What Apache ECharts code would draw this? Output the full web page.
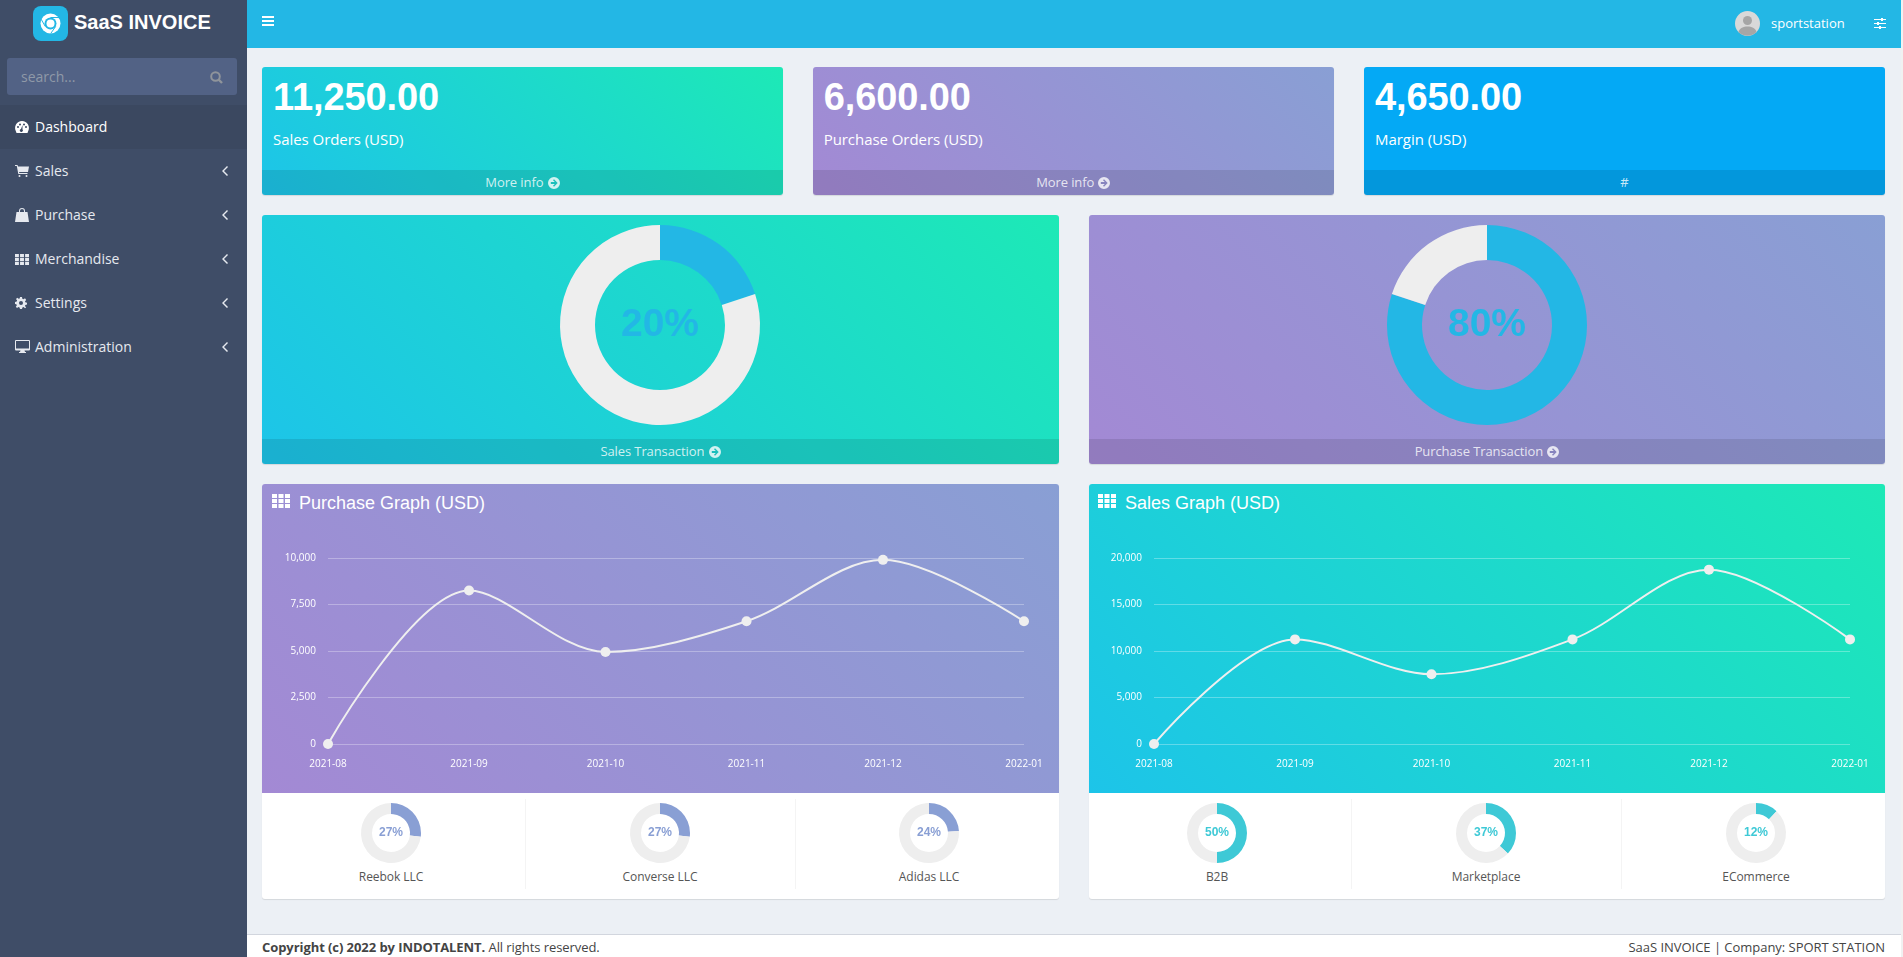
<!DOCTYPE html>
<html>
<head>
<meta charset="utf-8">
<title>SaaS INVOICE</title>
<script src="https://cdn.jsdelivr.net/npm/echarts@6/dist/echarts.min.js"></script>
<style>
html,body{margin:0;padding:0;width:1903px;height:957px;overflow:hidden;background:#ecf0f5;font-family:"Open Sans",sans-serif;}
.box{position:absolute;border-radius:3px;overflow:hidden;box-shadow:0 1px 1px rgba(0,0,0,.1);}
.green{background:linear-gradient(-135deg,#1de9b6,#1dc4e9);}
.purple{background:linear-gradient(-135deg,#899fd4,#a389d4);}
.blue{background:#04a9f5;}
.foot{position:absolute;left:0;right:0;bottom:0;height:25px;line-height:25px;background:rgba(0,0,0,.1);text-align:center;color:rgba(255,255,255,.8);font-size:13px;letter-spacing:-.1px;}
.foot svg{width:12px;height:12px;vertical-align:-2px;margin-left:1px;fill:rgba(255,255,255,.8);}
.big{position:absolute;left:11px;top:13px;font:bold 38px/34px "Liberation Sans",sans-serif;letter-spacing:-.1px;color:#fff;}
.sub{position:absolute;left:11px;top:62px;line-height:20px;font-size:15px;letter-spacing:-.05px;color:#fff;}
.t{position:absolute;white-space:nowrap;height:20px;line-height:20px;}
.nav{left:35px;font-size:14px;color:#e6e9ef;}
svg.i{position:absolute;fill:currentColor;}
.panel-title{font:18px/20px "Liberation Sans",sans-serif;color:#fff;}
.mini{font-size:12px;color:#555;transform:translateX(-50%);letter-spacing:-.05px;}
.sep{position:absolute;width:1px;top:799px;height:90px;background:#f4f4f4;}
</style>
</head>
<body>
<svg width="0" height="0" style="position:absolute">
<symbol id="th" viewBox="0 0 18 14"><path d="M0 0h5v4H0zM6.500 0h5v4h-5zM13 0h5v4h-5zM0 5h5v4H0zM6.500 5h5v4h-5zM13 5h5v4h-5zM0 10h5v4H0zM6.500 10h5v4h-5zM13 10h5v4h-5z"/></symbol>
<symbol id="chev" viewBox="0 0 6 10"><path d="M5 0l1 1-4 4 4 4-1 1-5-5z"/></symbol>
<symbol id="arrow" viewBox="0 0 12 12"><path fill-rule="evenodd" d="M6 0a6 6 0 1 1 0 12A6 6 0 0 1 6 0zM6 2.300l-1 1 1.800 1.800H2.800v1.800h4L5 8.700l1 1 3.700-3.700z"/></symbol>
</svg>

<!-- sidebar -->
<div style="position:absolute;left:0;top:0;width:247px;height:957px;background:#3f4d67"></div>
<div style="position:absolute;left:33px;top:6px;width:35px;height:35px;border-radius:8px;background:#23b7e5"></div>
<svg style="position:absolute;left:40px;top:13px" width="21" height="21" viewBox="0 0 21 21"><circle cx="10.500" cy="10.500" r="10" fill="#fff"/><circle cx="10.500" cy="10.500" r="6" fill="#23b7e5"/><circle cx="10.500" cy="10.500" r="4" fill="#fff"/><path d="M10.500 4.500h9.500M15.700 13.500l-5 7M5.300 13.500L1 6" stroke="#23b7e5" stroke-width="1"/></svg>
<div class="t" style="left:74px;top:12px;font:bold 20px/20px 'Liberation Sans',sans-serif;color:#fff">SaaS INVOICE</div>
<div style="position:absolute;left:7px;top:58px;width:230px;height:37px;border-radius:3px;background:#526285"></div>
<div class="t" style="left:21px;top:67px;font-size:14px;color:#8f99a8">search...</div>
<svg style="position:absolute;left:210px;top:71px" width="13" height="13" viewBox="0 0 13 13"><circle cx="5.500" cy="5.500" r="4.300" fill="none" stroke="#8f949b" stroke-width="2"/><path d="M8.500 8.500l3.500 3.500" stroke="#8f949b" stroke-width="2.400"/></svg>
<div style="position:absolute;left:0;top:105px;width:247px;height:44px;background:#3b4860"></div>

<svg class="i" style="left:15px;top:121px;color:#fff" width="14" height="12" viewBox="0 0 14 12"><path fill-rule="evenodd" d="M7 0a7 7 0 0 1 6 10.500L12.500 12h-11L1 10.500A7 7 0 0 1 7 0zM3 5a1 1 0 1 0 0 2 1 1 0 0 0 0-2zM5 2.500a1 1 0 1 0 0 2 1 1 0 0 0 0-2zM9 2.500a1 1 0 1 0 0 2 1 1 0 0 0 0-2zM11 5a1 1 0 1 0 0 2 1 1 0 0 0 0-2zM7.500 4L6 8a1.500 1.500 0 1 0 1.500.5z"/></svg>
<div class="t nav" style="top:117px;color:#fff">Dashboard</div>
<svg class="i" style="left:15px;top:165px;color:#e6e9ef" width="14" height="12" viewBox="0 0 14 12"><path d="M0 0h2.500l.5 1.500H14l-1 5.500H4l.3 1H12.500v1H3.300L1.800 1H0z"/><circle cx="4.500" cy="11" r="1"/><circle cx="11.500" cy="11" r="1"/></svg>
<div class="t nav" style="top:161px">Sales</div>
<svg class="i" style="left:15px;top:208px;color:#e6e9ef" width="14" height="14" viewBox="0 0 14 14"><path d="M1.500 4H4V3a3 3 0 0 1 6 0v1h2.500L14 14H0zM5 4h4V3a2 2 0 0 0-4 0z"/></svg>
<div class="t nav" style="top:205px">Purchase</div>
<svg class="i" style="left:15px;top:254px;color:#e6e9ef" width="14" height="11"><use href="#th"/></svg>
<div class="t nav" style="top:249px">Merchandise</div>
<svg class="i" style="left:15px;top:297px;color:#e6e9ef" width="12" height="12" viewBox="0 0 12 12"><path fill-rule="evenodd" d="M5 0h2l.3 1.700 1.300.6L10 1.300 11.200 3 10 4.200l.3 1 1.700.5v1.800l-1.700.4-.3 1.200 1.100 1.300L10 11.200 8.700 10l-1.300.4-.4 1.600H5l-.4-1.600-1.200-.5L2 11.100.8 9.800l1-1.300-.4-1.200L0 7V5l1.700-.4.4-1.200L1 2l1.300-1.200 1.300 1 1.100-.4zM6 4a2 2 0 1 0 0 4 2 2 0 0 0 0-4z"/></svg>
<div class="t nav" style="top:293px">Settings</div>
<svg class="i" style="left:15px;top:340px;color:#e6e9ef" width="15" height="13" viewBox="0 0 15 13"><path fill-rule="evenodd" d="M1 0h13a1 1 0 0 1 1 1v8.500a1 1 0 0 1-1 1H9.500l.5 1.500h1v1H4v-1h1l.5-1.500H1a1 1 0 0 1-1-1V1a1 1 0 0 1 1-1zM1 1v7.500h13V1z"/></svg>
<div class="t nav" style="top:337px">Administration</div>
<svg class="i" style="left:222px;top:166px;color:#e6e9ef" width="6" height="10"><use href="#chev"/></svg>
<svg class="i" style="left:222px;top:210px;color:#e6e9ef" width="6" height="10"><use href="#chev"/></svg>
<svg class="i" style="left:222px;top:254px;color:#e6e9ef" width="6" height="10"><use href="#chev"/></svg>
<svg class="i" style="left:222px;top:298px;color:#e6e9ef" width="6" height="10"><use href="#chev"/></svg>
<svg class="i" style="left:222px;top:342px;color:#e6e9ef" width="6" height="10"><use href="#chev"/></svg>

<!-- top bar -->
<div style="position:absolute;left:247px;top:0;width:1654px;height:48px;background:#23b7e5"></div>
<div style="position:absolute;left:1901px;top:0;width:2px;height:957px;background:#f1f1f1"></div>
<svg style="position:absolute;left:262px;top:16px" width="12" height="10" viewBox="0 0 12 10" fill="#fff"><path d="M0 0h12v2H0zM0 4h12v2H0zM0 8h12v2H0z"/></svg>
<svg style="position:absolute;left:1735px;top:11px" width="25" height="25" viewBox="0 0 25 25"><circle cx="12.500" cy="12.500" r="12.500" fill="#d9d9d9"/><circle cx="12.500" cy="9.500" r="4.500" fill="#a6a6a6"/><path d="M3.500 21c1-4 5-5.500 9-5.500s8 1.500 9 5.500a12.500 12.500 0 0 1-18 0z" fill="#a6a6a6"/></svg>
<div class="t" style="left:1771px;top:13px;font-size:13px;color:#fff">sportstation</div>
<svg style="position:absolute;left:1874px;top:18px" width="12" height="11" viewBox="0 0 12 11" fill="#fff"><path d="M0 1h12v1H0zM0 5h12v1H0zM0 9h12v1H0zM7 0h2v3H7zM3 4h2v3H3zM5 8h2v3H5z"/></svg>

<!-- stat cards -->
<div class="box green" style="left:262px;top:67px;width:521px;height:128px"><div class="big">11,250.00</div><div class="sub">Sales Orders (USD)</div><div class="foot">More info <svg><use href="#arrow"/></svg></div></div>
<div class="box purple" style="left:812.67px;top:67px;width:521.33px;height:128px"><div class="big">6,600.00</div><div class="sub">Purchase Orders (USD)</div><div class="foot">More info <svg><use href="#arrow"/></svg></div></div>
<div class="box blue" style="left:1364px;top:67px;width:521px;height:128px"><div class="big">4,650.00</div><div class="sub">Margin (USD)</div><div class="foot">#</div></div>

<!-- transaction panels -->
<div class="box green" style="left:262px;top:215px;width:797px;height:249px"><div class="foot">Sales Transaction <svg><use href="#arrow"/></svg></div></div>
<div class="box purple" style="left:1089px;top:215px;width:796px;height:249px"><div class="foot">Purchase Transaction <svg><use href="#arrow"/></svg></div></div>

<!-- graph panels -->
<div class="box" style="left:262px;top:484px;width:797px;height:415px;background:#fff"><div class="purple" style="height:309px"></div></div>
<div class="box" style="left:1089px;top:484px;width:796px;height:415px;background:#fff"><div class="green" style="height:309px"></div></div>
<svg class="i" style="left:272px;top:494px;color:#fff" width="18" height="14"><use href="#th"/></svg>
<div class="t panel-title" style="left:299px;top:493px">Purchase Graph (USD)</div>
<svg class="i" style="left:1098px;top:494px;color:#fff" width="18" height="14"><use href="#th"/></svg>
<div class="t panel-title" style="left:1125px;top:493px">Sales Graph (USD)</div>
<div class="sep" style="left:525px"></div>
<div class="sep" style="left:795px"></div>
<div class="sep" style="left:1351px"></div>
<div class="sep" style="left:1621px"></div>
<div class="t mini" style="left:391px;top:867px">Reebok LLC</div>
<div class="t mini" style="left:660px;top:867px">Converse LLC</div>
<div class="t mini" style="left:929px;top:867px">Adidas LLC</div>
<div class="t mini" style="left:1217px;top:867px">B2B</div>
<div class="t mini" style="left:1486px;top:867px">Marketplace</div>
<div class="t mini" style="left:1756px;top:867px">ECommerce</div>

<!-- page footer -->
<div style="position:absolute;left:247px;top:934px;width:1654px;height:23px;background:#fff;border-top:1px solid #d2d6de;box-sizing:border-box"></div>
<div class="t" style="left:262px;top:937px;font-size:13px;color:#444;letter-spacing:-.07px"><b>Copyright (c) 2022 by INDOTALENT.</b> All rights reserved.</div>
<div class="t" style="right:18px;top:937px;font-size:13px;color:#444;letter-spacing:-.03px">SaaS INVOICE | Company: SPORT STATION</div>

<div id="main" style="position:absolute;left:0;top:0;width:1903px;height:957px;pointer-events:none"></div>

<script>
var months = ['2021-08-01', '2021-09-01', '2021-10-01', '2021-11-01', '2021-12-01', '2022-01-01'];
var purchaseValues = [0, 8250, 4950, 6600, 9900, 6600];
var salesValues = [0, 11250, 7500, 11250, 18750, 11250];
var salesTransaction = 20;
var purchaseTransaction = 80;
var purchaseShares = [27, 27, 24];
var salesShares = [50, 37, 12];

var chart = echarts.init(document.getElementById('main'), null, {renderer: 'canvas'});
var monthStamps = months.map(function (m) { return +new Date(m + 'T00:00:00'); });

function xAxis(index) {
    return {
        type: 'time',
        gridIndex: index,
        min: monthStamps[0],
        max: monthStamps[5],
        axisLine: {show: false},
        axisTick: {show: false},
        splitLine: {show: false},
        axisLabel: {
            customValues: monthStamps,
            hideOverlap: false,
            showMinLabel: true,
            showMaxLabel: true,
            color: '#fff',
            fontSize: 10,
            fontFamily: 'Open Sans',
            margin: 15,
            formatter: '{yyyy}-{MM}'
        }
    };
}

function yAxis(index, max, step) {
    return {
        type: 'value',
        gridIndex: index,
        min: 0,
        max: max,
        interval: step,
        axisLine: {show: false},
        axisTick: {show: false},
        axisLabel: {
            color: '#fff',
            fontSize: 10,
            fontFamily: 'Open Sans',
            margin: 12,
            padding: [3, 0, 0, 0]
        },
        splitLine: {lineStyle: {color: 'rgba(255,255,255,0.3)', width: 1}}
    };
}

function lineSeries(index, values) {
    return {
        type: 'line',
        xAxisIndex: index,
        yAxisIndex: index,
        data: values.map(function (v, i) { return [monthStamps[i], v]; }),
        smooth: 0.33,
        clip: false,
        symbol: 'circle',
        symbolSize: 10,
        animation: false,
        silent: true,
        lineStyle: {color: '#efefef', width: 2},
        itemStyle: {color: '#efefef'}
    };
}

function donut(center, radius, value, color, labelSize) {
    return {
        type: 'pie',
        center: center,
        radius: radius,
        startAngle: 90,
        animation: false,
        silent: true,
        label: {show: false},
        labelLine: {show: false},
        data: [
            {
                value: value,
                itemStyle: {color: color},
                label: {
                    show: true,
                    position: 'center',
                    formatter: value + '%',
                    color: color,
                    fontSize: labelSize,
                    fontWeight: 'bold',
                    fontFamily: 'Liberation Sans'
                }
            },
            {value: 100 - value, itemStyle: {color: '#eeeeee'}}
        ]
    };
}

var series = [lineSeries(0, purchaseValues), lineSeries(1, salesValues)];
series.push(donut([660, 325], [65, 100], salesTransaction, '#23b7e5', 39));
series.push(donut([1487, 325], [65, 100], purchaseTransaction, '#23b7e5', 39));
[391, 660, 929].forEach(function (x, i) {
    series.push(donut([x, 833], [19, 30], purchaseShares[i], '#899fd4', 12));
});
[1217, 1486, 1756].forEach(function (x, i) {
    series.push(donut([x, 833], [19, 30], salesShares[i], '#3ec9d6', 12));
});

chart.setOption({
    backgroundColor: 'transparent',
    grid: [
        {left: 328, top: 558, width: 696, height: 186},
        {left: 1154, top: 558, width: 696, height: 186}
    ],
    xAxis: [xAxis(0), xAxis(1)],
    yAxis: [yAxis(0, 10000, 2500), yAxis(1, 20000, 5000)],
    series: series
});
</script>
</body>
</html>
